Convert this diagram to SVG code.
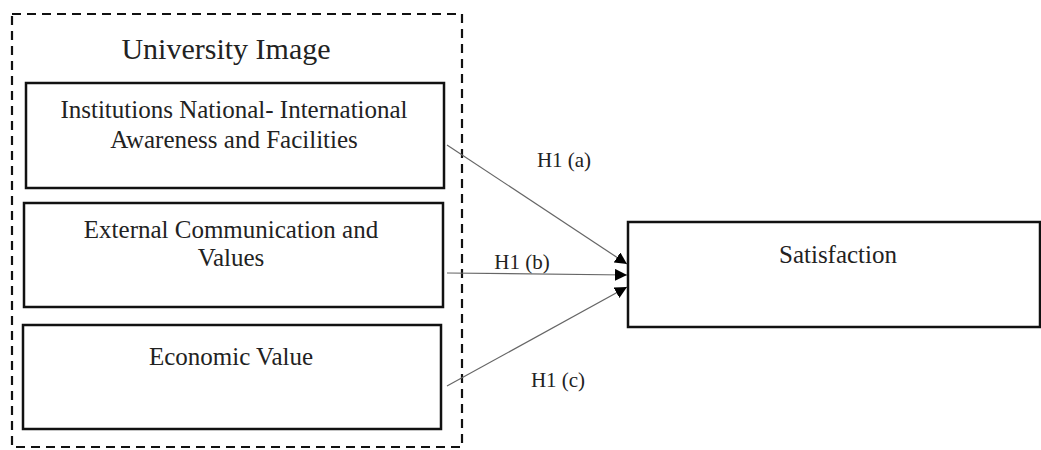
<svg xmlns="http://www.w3.org/2000/svg" width="1041" height="450" viewBox="0 0 1041 450">
<style>
text{font-family:"Liberation Serif","Times New Roman",serif;fill:#222;text-anchor:middle}
.box{fill:#fff;stroke:#111;stroke-width:2.5}
.dash{fill:none;stroke:#111;stroke-width:2.2;stroke-dasharray:9,6}
.t{font-size:25px}
.lbl{font-size:21px}
.con{stroke:#666;stroke-width:1.2;fill:none;marker-end:url(#ah)}
</style>
<defs>
<marker id="ah" viewBox="0 0 10 10" refX="10" refY="5" markerWidth="12" markerHeight="12" markerUnits="userSpaceOnUse" orient="auto">
<path d="M0,0 L10,5 L0,10 z" fill="#000"/>
</marker>
</defs>
<g id="group-university-image">
<rect class="dash" x="12" y="14" width="450" height="433"/>
<text x="226" y="59" style="font-size:30px">University Image</text>
</g>
<g id="node-institutions">
<rect class="box" x="26" y="83" width="418" height="105"/>
<text class="t" x="234" y="118">Institutions National- International</text>
<text class="t" x="234" y="148">Awareness and Facilities</text>
</g>
<g id="node-external">
<rect class="box" x="24" y="203" width="419" height="104"/>
<text class="t" x="231" y="238">External Communication and</text>
<text class="t" x="231" y="266">Values</text>
</g>
<g id="node-economic">
<rect class="box" x="23" y="325" width="418" height="104"/>
<text class="t" x="231" y="365">Economic Value</text>
</g>
<g id="node-satisfaction">
<rect class="box" x="628" y="222" width="412" height="105"/>
<text class="t" x="838" y="263">Satisfaction</text>
</g>
<g id="connectors">
<line class="con" x1="447" y1="145" x2="627" y2="264"/>
<line class="con" x1="447" y1="273" x2="627" y2="275"/>
<line class="con" x1="447" y1="386" x2="627" y2="287"/>
<text class="lbl" x="564" y="167">H1 (a)</text>
<text class="lbl" x="522" y="269">H1 (b)</text>
<text class="lbl" x="558" y="387">H1 (c)</text>
</g>
</svg>
